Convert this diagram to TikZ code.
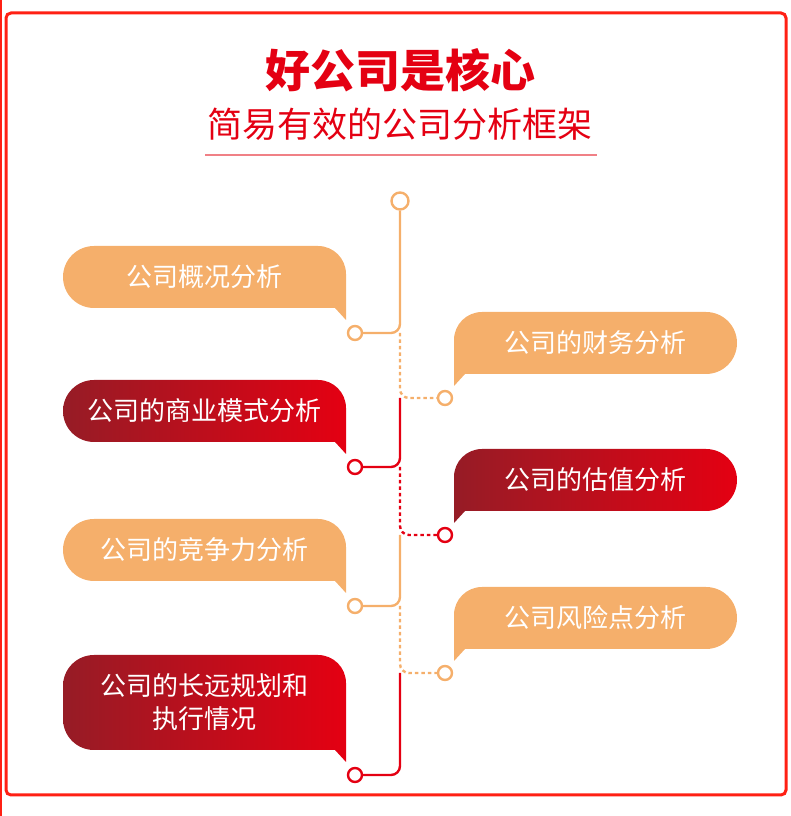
\documentclass[tikz,border=0pt]{standalone}
\usepackage{fontspec}
\newfontfamily\cjk{Noto Sans CJK SC}
\usetikzlibrary{positioning}
\definecolor{kOrange}{RGB}{245,175,107}
\definecolor{kRed}{RGB}{228,0,18}
\definecolor{kDarkRed}{RGB}{150,28,38}
\definecolor{kFrame}{RGB}{255,32,20}
\definecolor{kRule}{RGB}{240,128,134}

\begin{document}
\begin{tikzpicture}[x=1pt, y=1pt,
    every node/.style={font=\cjk},
    tag/.style={text=white, font=\cjk\fontsize{26}{33}\selectfont, align=center},
    dot/.style={circle, draw, line width=2.4pt, fill=white, inner sep=0pt, minimum size=14pt},
    solidline/.style={line width=2.4pt, rounded corners=9pt},
    dottedline/.style={line width=2.4pt, rounded corners=9pt, dash pattern=on 3.5pt off 3pt},
    orangefill/.style={fill=kOrange},
    redfill/.style={left color=kDarkRed, right color=kRed}]
                    \useasboundingbox (0,0) rectangle (791,816);
                    \draw[kFrame, line width=1.2pt] (1,0) -- (1,816);
                    \draw[kFrame, line width=3pt, rounded corners=5pt] (6,21) rectangle (786,803);
                    \node[font=\cjk\bfseries\fontsize{45}{50}\selectfont, text=kRed] (title) at (400,746) {好公司是核心};
                    \node[font=\cjk\fontsize{35}{40}\selectfont, text=kRed] (subtitle) at (400,692) {简易有效的公司分析框架};
                    \draw[kRule, line width=2pt] (205,661) -- (597,661);
                    \foreach \yb/\yt/\look/\name/\txt in {508/570/orangefill/general/公司概况分析,
                        374/436/redfill/business/公司的商业模式分析,
                        235/297/orangefill/compete/公司的竞争力分析,
                        66/161/redfill/plan/{公司的长远规划和\\执行情况}} {
                        \path[\look] (335,\yb) -- (94,\yb) arc[start angle=270, end angle=180, radius=31pt]
                            -- (63,\yt-31) arc[start angle=180, end angle=90, radius=31pt]
                            -- (318,\yt) arc[start angle=90, end angle=0, radius=28pt]
                            -- (346,\yb-12) -- cycle;
                        \node[tag] (\name) at (204.5,{(\yb+\yt)/2}) {\txt};
                    }
                    \foreach \yb/\yt/\look/\name/\txt in {442/504/orangefill/finance/公司的财务分析,
                        305/367/redfill/value/公司的估值分析,
                        167/229/orangefill/risk/公司风险点分析} {
                        \path[\look] (465,\yb) -- (706,\yb) arc[start angle=-90, end angle=90, radius=31pt]
                            -- (482,\yt) arc[start angle=90, end angle=180, radius=28pt]
                            -- (454,\yb-12) -- cycle;
                        \node[tag] (\name) at (595.5,{(\yb+\yt)/2}) {\txt};
                    }
                    \node[dot, draw=kOrange, minimum size=17pt] (top) at (400,615) {};
                    \node[dot, draw=kOrange] (l1) at (355,483) {};
                    \node[dot, draw=kRed] (l2) at (355,349) {};
                    \node[dot, draw=kOrange] (l3) at (355,210) {};
                    \node[dot, draw=kRed] (l4) at (355,41) {};
                    \node[dot, draw=kOrange] (r1) at (445,418) {};
                    \node[dot, draw=kRed] (r2) at (445,281) {};
                    \node[dot, draw=kOrange] (r3) at (445,143) {};
                    \coordinate (j1) at (top |- l1);
                    \coordinate (j2) at (top |- r1);
                    \coordinate (j3) at (top |- l2);
                    \coordinate (j4) at (top |- r2);
                    \coordinate (j5) at (top |- l3);
                    \coordinate (j6) at (top |- r3);
                    \draw[solidline, kOrange] (top) |- (l1);
                    \draw[dottedline, kOrange] (j1) |- (r1);
                    \draw[solidline, kRed] (j2) |- (l2);
                    \draw[dottedline, kRed] (j3) |- (r2);
                    \draw[solidline, kOrange] (j4) |- (l3);
                    \draw[dottedline, kOrange] (j5) |- (r3);
                    \draw[solidline, kRed] (j6) |- (l4);
                \end{tikzpicture}
\end{document}
